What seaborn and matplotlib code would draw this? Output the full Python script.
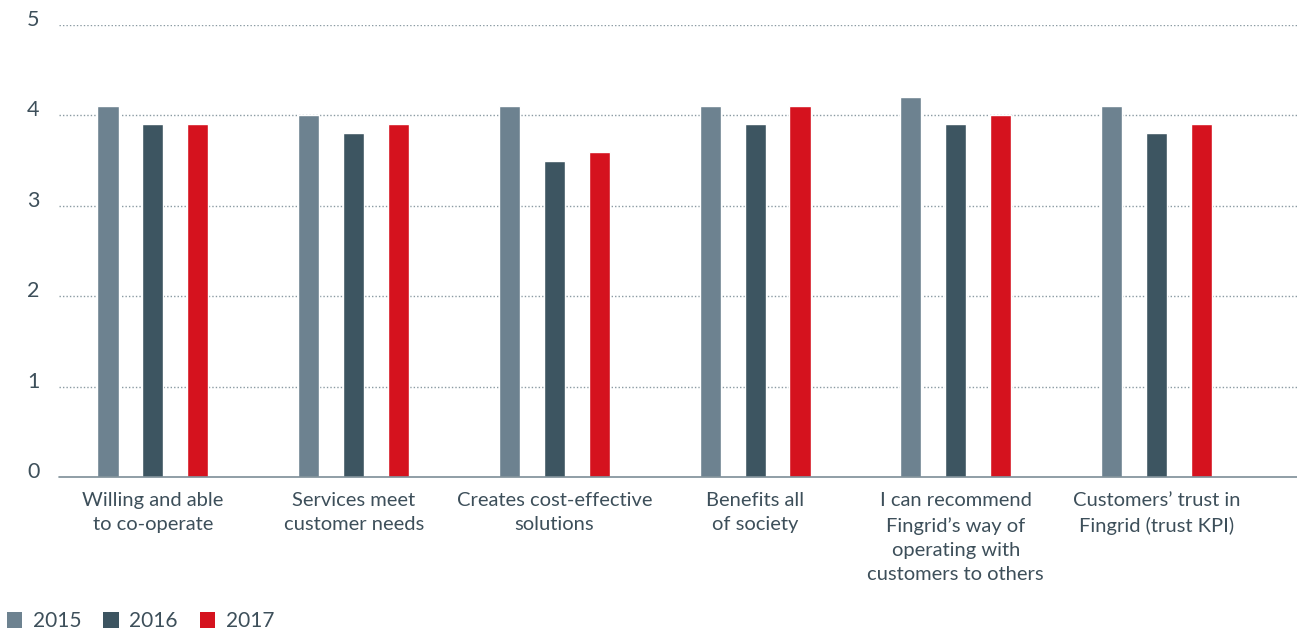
import matplotlib
matplotlib.use("Agg")
import matplotlib.pyplot as plt
import matplotlib.transforms as mtransforms
from matplotlib.patches import Patch
import seaborn as sns
import pandas as pd

categories = [
    "Willing and able\nto co-operate",
    "Services meet\ncustomer needs",
    "Creates cost-effective\nsolutions",
    "Benefits all\nof society",
    "I can recommend\nFingrid\u2019s way of\noperating with\ncustomers to others",
    "Customers\u2019 trust in\nFingrid (trust KPI)",
]
years = ["2015", "2016", "2017"]
values_2015 = [4.1, 4.0, 4.1, 4.1, 4.2, 4.1]
values_2016 = [3.9, 3.8, 3.5, 3.9, 3.9, 3.8]
values_2017 = [3.9, 3.9, 3.6, 4.1, 4.0, 3.9]
yticks = [0, 1, 2, 3, 4, 5]

colors = ["#6d8290", "#3d5561", "#d5121e"]
text_color = "#3d4f5a"

rows = []
for cat, a, b, c in zip(categories, values_2015, values_2016, values_2017):
    for yr, v in zip(years, (a, b, c)):
        rows.append({"category": cat, "year": yr, "value": v})
df = pd.DataFrame(rows)

sns.set_style("white")
plt.rcParams["font.family"] = ["Lato", "DejaVu Sans"]

fig = plt.figure(figsize=(12.97, 6.30), dpi=100)
ax = fig.add_axes([59 / 1297, 1 - 477 / 630, 1 - 59 / 1297, (477 - 25) / 630])

sns.barplot(data=df, x="category", y="value", hue="year", palette=colors,
            width=0.672, gap=0.53, errorbar=None, ax=ax, legend=False,
            saturation=1)

ax.set_xlim(-0.468, 5.70)
ax.set_ylim(0, 5)
ax.set_yticks(yticks)
ax.set_xlabel("")
ax.set_ylabel("")
for s in ["top", "right", "left", "bottom"]:
    ax.spines[s].set_visible(False)
for yv in yticks[1:]:
    ax.axhline(yv, color="#8a9aa2", linestyle=(0, (1, 1.5)), linewidth=1.0, zorder=0)
ax.axhline(0, color="#7d8e97", linewidth=1.2, zorder=3, clip_on=False)

ax.tick_params(axis="y", length=0, pad=14, labelsize=15.5, labelcolor=text_color)
ax.tick_params(axis="x", length=0, pad=11, labelsize=14.5, labelcolor=text_color)
offset = mtransforms.ScaledTranslation(0, 7 / 100, fig.dpi_scale_trans)
for lbl in ax.get_yticklabels():
    lbl.set_transform(lbl.get_transform() + offset)
for lbl in ax.get_xticklabels():
    lbl.set_linespacing(1.5)

handles = [Patch(facecolor=c, edgecolor="none") for c in colors]
fig.legend(handles, years, loc="lower left", bbox_to_anchor=(-0.006, -0.025),
           ncol=3, frameon=False, fontsize=15, labelcolor=text_color,
           handlelength=0.75, handleheight=0.75, handletextpad=0.5,
           columnspacing=1.05, borderaxespad=0.3)

fig.savefig("out.png", dpi=100)
